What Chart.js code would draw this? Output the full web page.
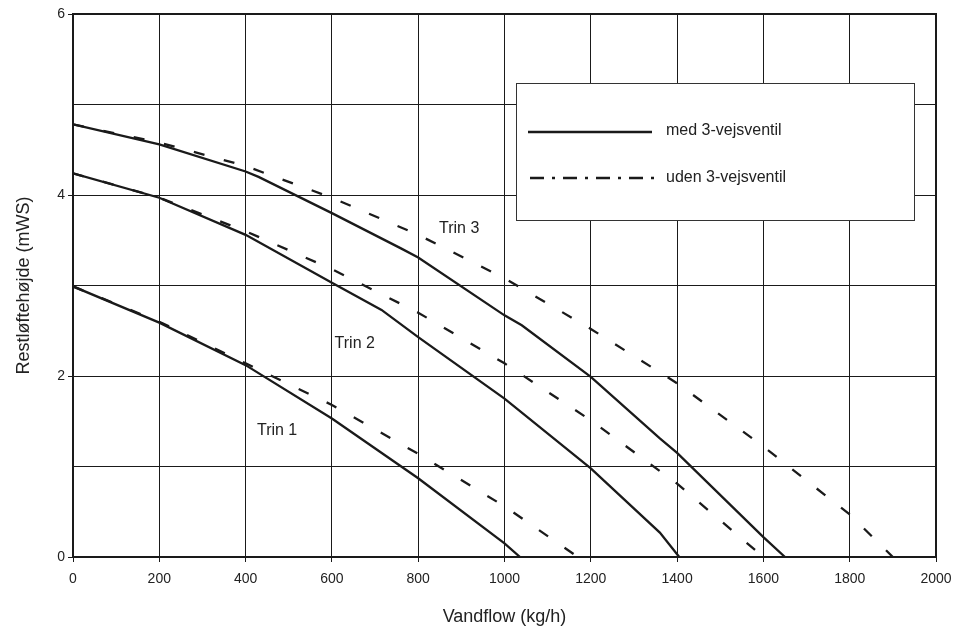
<!DOCTYPE html>
<html>
<head>
<meta charset="utf-8">
<script src="https://cdn.jsdelivr.net/npm/chart.js@4.4.1/dist/chart.umd.min.js"></script>
<style>
  html, body { margin: 0; padding: 0; background: #fff; }
  #wrap { width: 963px; height: 636px; position: relative; }
</style>
</head>
<body>
<div id="wrap"><canvas id="grafica" width="963" height="636"></canvas></div>
<script>
// Trin 3 - med 3-vejsventil
const flowT3Med = [0, 200, 400, 430, 600, 760, 800, 1000, 1040, 1200, 1360, 1400, 1600, 1650];
const headT3Med = [4.78, 4.56, 4.26, 4.20, 3.80, 3.41, 3.31, 2.67, 2.56, 1.99, 1.31, 1.15, 0.22, 0];
// Trin 3 - uden 3-vejsventil
const flowT3Uden = [0, 200, 400, 600, 800, 1000, 1200, 1400, 1600, 1800, 1900];
const headT3Uden = [4.78, 4.58, 4.32, 3.97, 3.56, 3.08, 2.52, 1.92, 1.22, 0.47, 0];
// Trin 2
const flowT2Med = [0, 200, 400, 600, 715, 800, 1000, 1200, 1360, 1405];
const headT2Med = [4.24, 3.97, 3.56, 3.03, 2.73, 2.43, 1.75, 0.98, 0.27, 0];
const flowT2Uden = [0, 200, 400, 600, 800, 1000, 1200, 1400, 1600];
const headT2Uden = [4.24, 3.97, 3.60, 3.18, 2.70, 2.14, 1.51, 0.81, 0];
// Trin 1
const flowT1Med = [0, 200, 400, 600, 800, 1000, 1036];
const headT1Med = [2.99, 2.59, 2.12, 1.53, 0.87, 0.15, 0];
const flowT1Uden = [0, 200, 400, 600, 800, 1000, 1170];
const headT1Uden = [2.99, 2.60, 2.14, 1.68, 1.14, 0.56, 0];

const xTicks = [0, 200, 400, 600, 800, 1000, 1200, 1400, 1600, 1800, 2000];
const yLabels = [0, 2, 4, 6];

// tekst ved kurverne (data-koordinater)
const trinTekst = ["Trin 1", "Trin 2", "Trin 3"];
const trinX = [473, 653, 895];
const trinY = [1.40, 2.36, 3.63];

const legendTekst = ["med 3-vejsventil", "uden 3-vejsventil"];

function pts(xs, ys) {
  return xs.map((x, i) => ({ x: x, y: ys[i] }));
}

const FONT = "'Liberation Sans', Arial, sans-serif";
const INK = "#1a1a1a";
const DASH = [11, 20];

function med(xs, ys) {
  return { data: pts(xs, ys), borderColor: INK, borderWidth: 2.3, pointRadius: 0, tension: 0 };
}
function uden(xs, ys) {
  return { data: pts(xs, ys), borderColor: INK, borderWidth: 2.3, borderDash: DASH, pointRadius: 0, tension: 0 };
}

const ekstra = {
  id: "ekstra",
  afterDatasetsDraw(chart) {
    const { ctx, chartArea: a, scales } = chart;
    ctx.save();
    // ramme
    ctx.strokeStyle = INK;
    ctx.lineWidth = 2;
    ctx.strokeRect(a.left, a.top, a.right - a.left, a.bottom - a.top);

    // Trin-tekster
    ctx.fillStyle = "#222";
    ctx.font = "16px " + FONT;
    ctx.textAlign = "center";
    ctx.textBaseline = "middle";
    trinTekst.forEach((t, i) => {
      ctx.fillText(t, scales.x.getPixelForValue(trinX[i]), scales.y.getPixelForValue(trinY[i]));
    });

    // forklaring
    const bx = 516, by = 83, bw = 398, bh = 137;
    ctx.fillStyle = "#fff";
    ctx.fillRect(bx, by, bw, bh);
    ctx.lineWidth = 1;
    ctx.strokeStyle = "#333";
    ctx.strokeRect(bx + 0.5, by + 0.5, bw, bh);

    ctx.strokeStyle = INK;
    ctx.lineWidth = 2.5;
    ctx.beginPath();
    ctx.moveTo(528, 132);
    ctx.lineTo(652, 132);
    ctx.stroke();

    ctx.setLineDash([14, 8, 3, 8]);
    ctx.beginPath();
    ctx.moveTo(530, 178);
    ctx.lineTo(655, 178);
    ctx.stroke();
    ctx.setLineDash([]);

    ctx.fillStyle = "#222";
    ctx.textAlign = "left";
    ctx.fillText(legendTekst[0], 666, 131);
    ctx.fillText(legendTekst[1], 666, 178);
    ctx.restore();
  }
};

const ctx = document.getElementById("grafica");

new Chart(ctx, {
  type: "line",
  data: {
    datasets: [
      med(flowT3Med, headT3Med),
      uden(flowT3Uden, headT3Uden),
      med(flowT2Med, headT2Med),
      uden(flowT2Uden, headT2Uden),
      med(flowT1Med, headT1Med),
      uden(flowT1Uden, headT1Uden)
    ]
  },
  options: {
    responsive: false,
    animation: false,
    layout: { padding: { top: 14, right: 27, left: 0, bottom: 0 } },
    plugins: {
      legend: { display: false },
      tooltip: { enabled: false }
    },
    scales: {
      x: {
        type: "linear",
        min: 0,
        max: 2000,
        afterBuildTicks: (s) => { s.ticks = xTicks.map(v => ({ value: v })); },
        afterFit: (s) => { s.height = 79; },
        ticks: {
          color: "#222",
          font: { family: FONT, size: 14 },
          padding: 9,
          callback: (v) => String(v)
        },
        grid: { color: INK, lineWidth: 1, tickLength: 5, tickColor: INK },
        border: { color: INK, width: 2 },
        title: { display: true, text: "Vandflow (kg/h)", color: "#222", font: { family: FONT, size: 18 }, padding: { top: 0, bottom: 8 } }
      },
      y: {
        min: 0,
        max: 6,
        ticks: {
          stepSize: 1,
          color: "#222",
          font: { family: FONT, size: 14 },
          padding: 3,
          callback: (v) => yLabels.includes(v) ? String(v) : ""
        },
        afterFit: (s) => { s.width = 73; },
        grid: {
          color: INK,
          lineWidth: 1,
          tickLength: 5,
          tickColor: (c) => (c.tick && yLabels.includes(c.tick.value)) ? INK : "rgba(0,0,0,0)"
        },
        border: { color: INK, width: 2 },
        title: { display: true, text: "Restløftehøjde (mWS)", color: "#222", font: { family: FONT, size: 18 }, padding: { top: 13, bottom: 0 } }
      }
    }
  },
  plugins: [ekstra]
});
</script>
</body>
</html>
